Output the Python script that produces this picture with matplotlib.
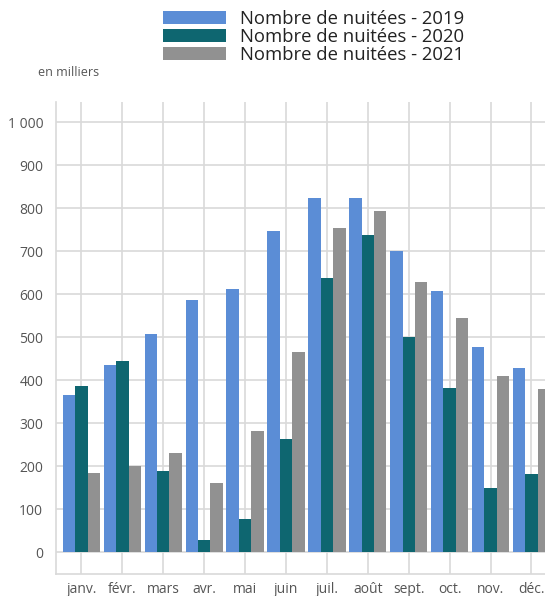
import matplotlib
matplotlib.use("Agg")
import matplotlib.pyplot as plt
import numpy as np

months = ["janv.", "févr.", "mars", "avr.", "mai", "juin", "juil.", "août", "sept.", "oct.", "nov.", "déc."]
n2019 = [367, 437, 509, 588, 612, 748, 825, 823, 702, 609, 477, 430]
n2020 = [388, 445, 190, 30, 77, 265, 638, 739, 501, 382, 150, 183]
n2021 = [185, 202, 232, 162, 282, 466, 755, 794, 630, 546, 410, 379]
series_labels = ["Nombre de nuitées - 2019", "Nombre de nuitées - 2020", "Nombre de nuitées - 2021"]
yticks = [0, 100, 200, 300, 400, 500, 600, 700, 800, 900, 1000]
ytick_labels = ["0", "100", "200", "300", "400", "500", "600", "700", "800", "900", "1 000"]

colors = ["#5b8dd6", "#0e6670", "#919191"]
plt.rcParams['font.family'] = ['Open Sans', 'DejaVu Sans']

fig = plt.figure(figsize=(5.45, 5.96), dpi=100)
ax = fig.add_axes([55.7/545, 22/596, 1 - 55.7/545, (574 - 101.7)/596])

x = np.arange(len(months))
w = 0.303
handles = []
for i, (vals, c) in enumerate(zip([n2019, n2020, n2021], colors)):
    b = ax.bar(x + (i - 1) * w, vals, width=w, color=c, zorder=3, label=series_labels[i])
    handles.append(b)

ax.set_xlim(-0.628, 11.33)
ax.set_ylim(-50, 1048)
ax.set_xticks(x)
ax.set_xticklabels(months, fontsize=10, color="#555555")
ax.set_yticks(yticks)
ax.set_yticklabels(ytick_labels, fontsize=10, color="#555555")
ax.tick_params(axis='both', length=0)
ax.tick_params(axis='x', pad=5.5)
ax.tick_params(axis='y', pad=9)
ax.grid(True, color="#d9d9d9", linewidth=1.2, zorder=0)
ax.set_axisbelow(True)
for s in ["top", "right"]:
    ax.spines[s].set_visible(False)
for s in ["left", "bottom"]:
    ax.spines[s].set_color("#d9d9d9")
    ax.spines[s].set_linewidth(1.2)

fig.text(38/545, 1 - 73/596, "en milliers", fontsize=9, color="#555555", va="center", ha="left")

leg = fig.legend(handles=handles, labels=series_labels, loc="upper left",
                 bbox_to_anchor=(163/545, 1 - 10/596), frameon=False, fontsize=13.3,
                 handlelength=3.4, handleheight=0.73, labelspacing=0.0, handletextpad=0.76,
                 borderpad=0, borderaxespad=0)
for t in leg.get_texts():
    t.set_color("#222222")

fig.savefig("out.png", dpi=100)
